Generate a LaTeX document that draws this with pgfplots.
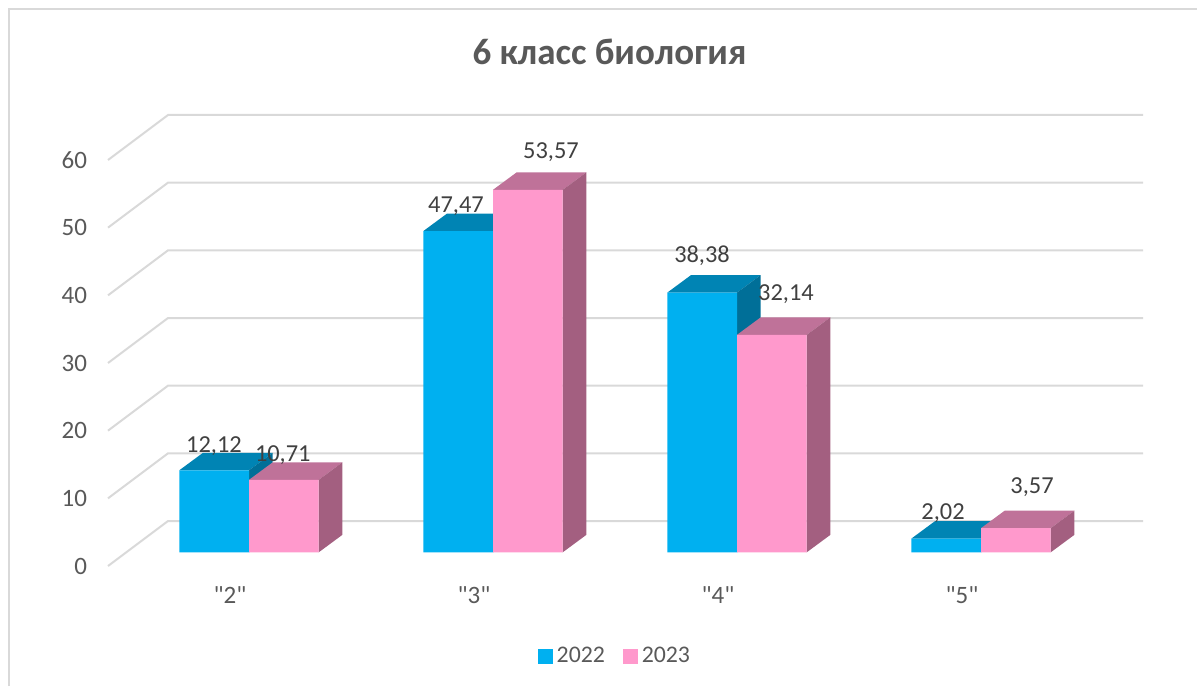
\documentclass[border=0pt]{standalone}
\usepackage{pgfplots}
\pgfplotsset{compat=1.18}
\usepackage{fontspec}
\setmainfont{Carlito}[Ligatures=TeXOff]
\definecolor{c22}{HTML}{00B0F0}
\definecolor{c22t}{HTML}{0084B4}
\definecolor{c22s}{HTML}{006F98}
\definecolor{c23}{HTML}{FF99CC}
\definecolor{c23t}{HTML}{BF7299}
\definecolor{c23s}{HTML}{A35F80}
\definecolor{gridc}{HTML}{D9D9D9}
\definecolor{tickc}{HTML}{595959}
\definecolor{labc}{HTML}{404040}
% x0, x1, value, top colour, side colour
\newcommand\boxfaces[5]{%
  \pgfmathsetmacro\xa{#1+0.0971}%
  \pgfmathsetmacro\xb{#2+0.0971}%
  \pgfmathsetmacro\yt{#3+2.585}%
  \addplot[forget plot,fill=#4,draw=none,yshift=6.85pt] coordinates {(#1,#3) (#2,#3) (\xb,\yt) (\xa,\yt)};%
  \addplot[forget plot,fill=#5,draw=none,yshift=6.85pt] coordinates {(#2,0) (\xb,2.585) (\xb,\yt) (#2,#3)};%
}
\newcommand\wall[1]{%
  \pgfmathsetmacro\yt{#1+6.65}%
  \addplot[forget plot,gridc,line width=1pt] coordinates {(-0.5779,#1) (-0.3320,\yt) (3.6639,\yt)};%
}
\begin{document}
\begin{tikzpicture}
\useasboundingbox (0,0) rectangle (598.5pt,343pt);
\draw[gridc,line width=1pt] (4.5pt,0) -- (4.5pt,338.5pt) -- (598.5pt,338.5pt);
\begin{axis}[
  at={(54pt,60pt)},anchor=south west,
  scale only axis,width=517.5pt,height=203pt,
  xmin=-0.5779,xmax=3.6639,ymin=0,ymax=60,
  clip=false,
  axis line style={draw=none},
  major tick length=0pt,
  xtick={0,1,2,3},
  xticklabels={"2","3","4","5"},
  ytick={0,10,...,60},
  /pgf/number format/assume math mode=true,
  tick label style={font=\fontsize{12.5pt}{15pt}\selectfont,text=tickc},
  yticklabel style={xshift=-7pt},
  xticklabel style={xshift=-9.5pt,yshift=-7pt},
  legend style={at={(0.4908,-0.2217)},anchor=center,draw=none,fill=none,
    legend columns=2,font=\fontsize{11.9pt}{14pt}\selectfont,text=tickc,
    /tikz/every even column/.append style={column sep=7pt}},
]
\wall{0}\wall{10}\wall{20}\wall{30}\wall{40}\wall{50}\wall{60}
% 2022
\boxfaces{-0.2857}{0}{12.12}{c22t}{c22s}
\boxfaces{0.7143}{1}{47.47}{c22t}{c22s}
\boxfaces{1.7143}{2}{38.38}{c22t}{c22s}
\boxfaces{2.7143}{3}{2.02}{c22t}{c22s}
\addplot[forget plot,ybar,bar width=34.85pt,bar shift=-17.43pt,fill=c22,draw=none,yshift=6.85pt]
  coordinates {(0,12.12) (1,47.47) (2,38.38) (3,2.02)};
% 2023
\boxfaces{0}{0.2857}{10.71}{c23t}{c23s}
\boxfaces{1}{1.2857}{53.57}{c23t}{c23s}
\boxfaces{2}{2.2857}{32.14}{c23t}{c23s}
\boxfaces{3}{3.2857}{3.57}{c23t}{c23s}
\addplot[forget plot,ybar,bar width=34.85pt,bar shift=17.43pt,fill=c23,draw=none,yshift=6.85pt]
  coordinates {(0,10.71) (1,53.57) (2,32.14) (3,3.57)};
\addlegendimage{legend image code/.code={\fill[c22] (0pt,-3.5pt) rectangle (7pt,3.5pt);}}
\addlegendentry{2022}
\addlegendimage{legend image code/.code={\fill[c23] (0pt,-3.5pt) rectangle (7pt,3.5pt);}}
\addlegendentry{2023}
\begin{scope}[every node/.style={font=\fontsize{12.2pt}{15pt}\selectfont,text=labc}]
\node at (axis cs:-0.1434,17.67) {12,12};
\node at (axis cs:0.1384,16.34) {10,71};
\node at (axis cs:0.8484,53.12) {47,47};
\node at (axis cs:1.2377,61.15) {53,57};
\node at (axis cs:1.8566,45.89) {38,38};
\node at (axis cs:2.2008,40.12) {32,14};
\node at (axis cs:2.8443,7.78) {2,02};
\node at (axis cs:3.2090,11.66) {3,57};
\end{scope}
\end{axis}
\node[font=\fontsize{18.5pt}{22pt}\selectfont\bfseries,text=tickc] at (304.75pt,317pt) {6 класс биология};
\end{tikzpicture}
\end{document}
